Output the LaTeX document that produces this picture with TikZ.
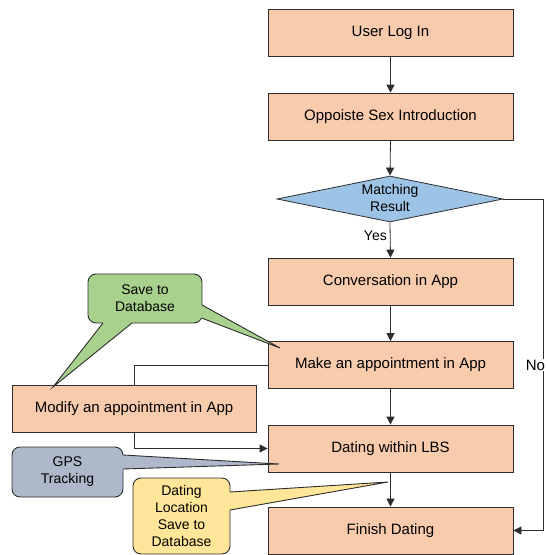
\documentclass[tikz,border=0pt]{standalone}
\usepackage{fontspec}
\setmainfont{Liberation Sans}
\usetikzlibrary{arrows.meta,shapes.geometric}
\definecolor{peach}{RGB}{248,203,173}
\definecolor{diablue}{RGB}{157,195,230}
\definecolor{cgreen}{RGB}{169,209,142}
\definecolor{cgrey}{RGB}{173,185,202}
\definecolor{cyellow}{RGB}{255,230,153}
\definecolor{edge}{RGB}{45,45,45}
\begin{document}
\begin{tikzpicture}[x=1pt,y=-1pt,
  box/.style={draw=edge, fill=peach, line width=0.8pt, minimum width=245pt, minimum height=47pt, inner sep=0pt, font=\fontsize{15}{18}\selectfont},
  arr/.style={draw=edge, -{Triangle[length=8pt,width=8pt]}, line width=0.8pt},
  conn/.style={draw=edge, line width=0.8pt},
  callbody/.style={draw=edge, line width=0.9pt, rounded corners=8pt, inner sep=0pt, align=center, font=\fontsize{14}{17}\selectfont},
  ptrline/.style={draw=edge, line width=0.9pt, line join=miter},
  lbl/.style={inner sep=1pt, font=\fontsize{14}{17}\selectfont}
  ]
\useasboundingbox (0,0) rectangle (547,555);
% main flow
\node[box] (login) at (390.5,33) {User Log In};
\node[box] (intro) at (390.5,116.5) {Oppoiste Sex Introduction};
\node[diamond, draw=edge, fill=diablue, line width=0.8pt, minimum width=226pt, minimum height=46pt, inner sep=0pt] (match) at (390,199) {};
\node[align=center, inner sep=0pt, font=\fontsize{14}{16.5}\selectfont] (matchtxt) at (390,198) {Matching\\Result};
\node[box] (conv) at (390.5,281.5) {Conversation in App};
\node[box] (make) at (390.5,365) {Make an appointment in App};
\node[box] (dating) at (390.5,448.5) {Dating within LBS};
\node[box] (finish) at (390.5,530.5) {Finish Dating};
\node[box, minimum width=244pt] (modify) at (134,408.5) {Modify an appointment in App};

\draw[arr] (login.south) -- (intro.north);
\draw[arr] (intro.south) -- (match.north);
\draw[arr] (match.south) -- node[lbl, pos=0.38, left=2pt] (yes) {Yes} (conv.north);
\draw[arr] (conv.south) -- (make.north);
\draw[arr] (make.south) -- (dating.north);
\draw[arr] (dating.south) -- (finish.north);
\coordinate (nocorner) at (543,199);
\draw[arr] (match.east) -- (nocorner) |- (finish.east);
\node[inner sep=0.5pt, fill=white, font=\fontsize{15}{18}\selectfont] (no) at (535.5,365) {No};
\draw[conn] (make.west) -| (modify.north);
\draw[arr] (modify.south) |- (dating.west);

% green callout
\node[callbody, fill=cgreen, minimum width=114pt, minimum height=49pt] (save) at (145,298.5) {Save to\\Database};
\coordinate (g1a) at (103,323); \coordinate (g1b) at (132,323); \coordinate (g1t) at (53,387);
\fill[cgreen] (103,319) -- (g1a) -- (g1t) -- (g1b) -- (132,319) -- cycle;
\draw[ptrline] (g1a) -- (g1t) -- (g1b);
\coordinate (g2a) at (202,305); \coordinate (g2b) at (201.5,318); \coordinate (g2t) at (280,348);
\fill[cgreen] (198,305) -- (g2a) -- (g2t) -- (g2b) -- (198,318) -- cycle;
\draw[ptrline] (g2a) -- (g2t) -- (g2b);

% grey callout
\node[callbody, fill=cgrey, minimum width=111pt, minimum height=50pt] (gps) at (67.5,472) {GPS\\Tracking};
\coordinate (h1a) at (123,455); \coordinate (h1b) at (123,469); \coordinate (h1t) at (279,464);
\fill[cgrey] (119,455) -- (h1a) -- (h1t) -- (h1b) -- (119,469) -- cycle;
\draw[ptrline] (h1a) -- (h1t) -- (h1b);

% yellow callout
\node[callbody, fill=cyellow, minimum width=97pt, minimum height=76pt] (loc) at (181.5,516) {Dating\\Location\\Save to\\Database};
\coordinate (y1a) at (230,492); \coordinate (y1b) at (230,510); \coordinate (y1t) at (388,482);
\fill[cyellow] (226,492) -- (y1a) -- (y1t) -- (y1b) -- (226,510) -- cycle;
\draw[ptrline] (y1a) -- (y1t) -- (y1b);
\end{tikzpicture}
\end{document}
